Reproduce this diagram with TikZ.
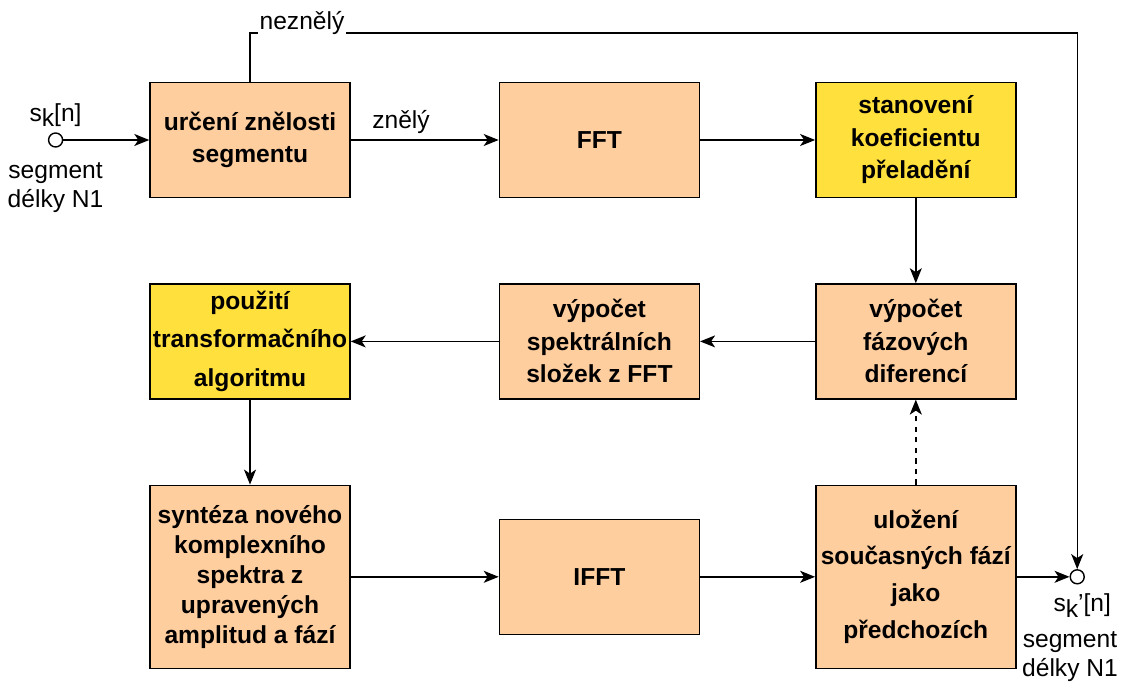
\documentclass[tikz,border=0pt]{standalone}
\usepackage{fontspec}
\setmainfont{Liberation Sans}
\usetikzlibrary{arrows.meta, positioning}
\definecolor{boxorange}{HTML}{FFCE9F}
\definecolor{boxyellow}{HTML}{FFE03D}
\tikzset{
  box/.style = {rectangle, draw=black, line width=0.8pt, fill=boxorange, minimum width=4cm, minimum height=2.3cm, align=center, font=\fontsize{14}{18.5}\selectfont\bfseries, inner xsep=1pt},
  hl/.style = {fill=boxyellow},
  tall/.style = {minimum height=3.66cm},
  port/.style = {circle, draw=black, line width=0.8pt, fill=white, minimum size=0.28cm, inner sep=0pt},
  lbl/.style = {font=\fontsize{14}{16.5}\selectfont, align=center, inner sep=1pt},
  arr/.style = {-{Stealth[length=3mm, width=2.4mm, inset=0.8mm]}, line width=0.8pt}
}

\begin{document}
\begin{tikzpicture}
\useasboundingbox (0,0) rectangle (22.42,-13.72);

% Row 1 (→)
\node[box] (uz) at (5.0,-2.8) {určení znělosti\\segmentu};
\node[box, right=2.96cm of uz] (fft) {FFT};
\node[box, hl, right=2.3cm of fft] (koef) {stanovení\\koeficientu\\přeladění};

% Row 2 (←)
\node[box, below=1.7cm of koef] (fd) {výpočet\\fázových\\diferencí};
\node[box, below=1.7cm of fft] (sp) {výpočet\\spektrálních\\složek z FFT};
\node[box, hl, below=1.7cm of uz, font=\fontsize{14}{22}\selectfont\bfseries] (pou) {použití\\transformačního\\algoritmu};

% Row 3 (→)
\node[box, tall, below=1.7cm of pou, font=\fontsize{14}{17}\selectfont\bfseries] (syn) {syntéza nového\\komplexního\\spektra z\\upravených\\amplitud a fází};
\node[box, right=2.96cm of syn] (ifft) {IFFT};
\node[box, tall, right=2.3cm of ifft, font=\fontsize{14}{21}\selectfont\bfseries] (ul) {uložení\\současných fází\\jako\\předchozích};

% ports
\node[port, left=1.72cm of uz] (in) {};
\node[lbl, above=2pt of in] (inname) {s\raisebox{-0.4ex}{k}[n]};
\node[lbl, below=0.25cm of in] (inlen) {segment\\délky N1};
\node[port, right=1.06cm of ul] (out) {};
\node[lbl, below=0.15cm of out, xshift=0.1cm] (outname) {s\raisebox{-0.4ex}{k}'[n]};
\node[lbl] (outlen) at (21.4,-13.14) {segment\\délky N1};

% ----- ARROWS -----
\draw[arr] (in) -- (uz.west);
\draw[arr] (uz.east) -- node[lbl, above=2pt, pos=0.34] (zn) {znělý} (fft.west);
\draw[arr] (fft.east) -- (koef.west);
\draw[arr] (koef.south) -- (fd.north);
\draw[arr] (fd.west) -- (sp.east);
\draw[arr] (sp.west) -- (pou.east);
\draw[arr] (pou.south) -- (syn.north);
\draw[arr] (syn.east) -- (ifft.west);
\draw[arr] (ifft.east) -- (ul.west);
\draw[arr] (ul.east) -- (out.west);
\draw[arr, dashed] (ul.north) -- (fd.south);
% bypass
\coordinate (topline) at (0,-0.66);
\draw[arr] (uz.north) |- (out |- topline) -- (out.north);
\node[lbl, fill=white, anchor=base] (nez) at (6.04,-0.6) {neznělý};

\end{tikzpicture}
\end{document}
